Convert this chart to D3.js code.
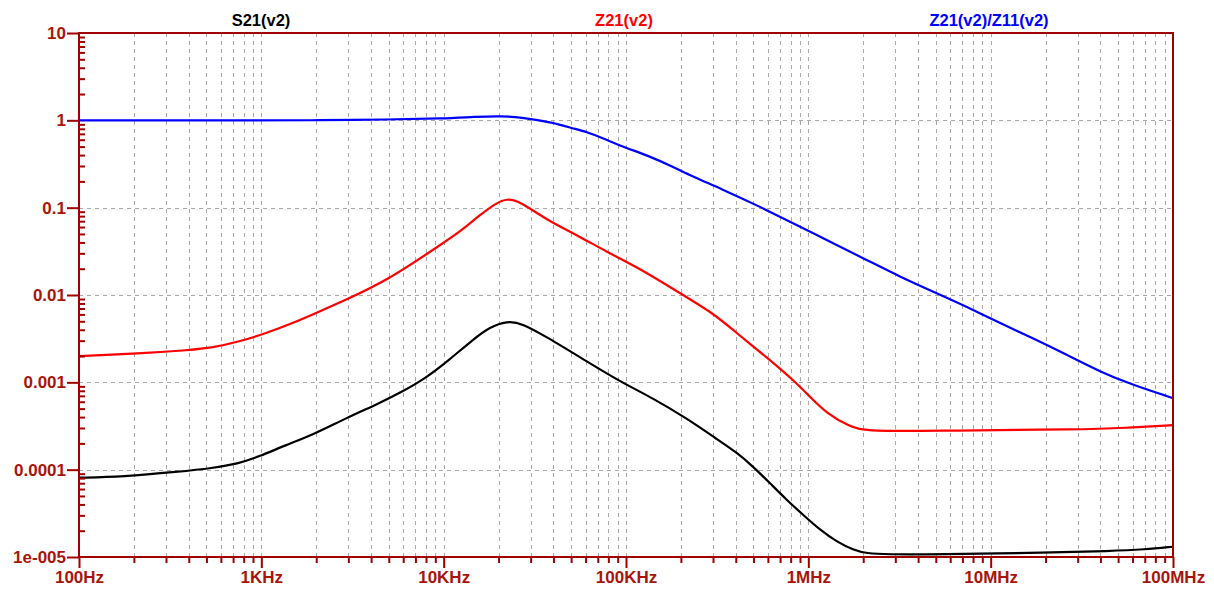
<!DOCTYPE html>
<html>
<head>
<script src="https://d3js.org/d3.v7.min.js" charset="utf-8"></script>
<style>
    body{
        margin:0;
        background:#fff;
        font-family:"Liberation Sans", Arial, sans-serif;
    }
</style>
</head>
<body>
<div id="chart"></div>
<script>

    // tick values and labels
    var xTicks = [1e2,1e3,1e4,1e5,1e6,1e7,1e8]
    var xLabels = ["100Hz","1KHz","10KHz","100KHz","1MHz","10MHz","100MHz"]
    var yTicks = [10,1,0.1,0.01,0.001,0.0001,0.00001]
    var yLabels = ["10","1","0.1","0.01","0.001","0.0001","1e-005"]

    var seriesNames = ["S21(v2)","Z21(v2)","Z21(v2)/Z11(v2)"]

    // S21(v2)
    var s21Freq = [100,173,353,538,755,971,1360,1900,2900,4420,5690,7960,10700,14600,17900,22300,26900,36800,58000,92700,141000,215000,314000,404000,499000,617000,761000,938000,1160000,1430000,1770000,2090000,2690000,5000000,21200000,45000000,70000000,100000000]
    var s21Val = [8.09e-5,8.3e-5,9.48e-5,1.04e-4,1.18e-4,1.41e-4,1.91e-4,2.49e-4,3.87e-4,5.75e-4,7.48e-4,1.11e-3,1.80e-3,3.13e-3,4.3e-3,5.05e-3,4.75e-3,3.3e-3,1.85e-3,1.02e-3,6.56e-4,3.87e-4,2.25e-4,1.58e-4,1.08e-4,6.98e-5,4.5e-5,3.03e-5,2.04e-5,1.50e-5,1.20e-5,1.10e-5,1.07e-5,1.07e-5,1.12e-5,1.17e-5,1.22e-5,1.31e-5]

    // Z21(v2)
    var z21Freq = [100,232,401,538,755,1060,1480,2070,2900,5000,9550,12300,15800,19500,22200,26200,36800,56000,78000,119000,198000,301000,386000,617000,827000,1020000,1260000,1690000,2090000,5980000,31000000,54600000,100000000]
    var z21Val = [0.00200,0.00215,0.00234,0.00249,0.00292,0.00364,0.00474,0.00644,0.00877,0.0150,0.0373,0.0531,0.0824,0.114,0.127,0.118,0.0722,0.0465,0.0313,0.0202,0.01045,0.00617,0.00397,0.0018,0.00106,0.000685,0.000441,0.00031,0.000272,0.000281,0.000288,0.0003,0.000324]

    // Z21(v2)/Z11(v2)
    var ratioFreq = [100,1000,2000,5000,10000,15000,20400,26200,40000,51000,60800,78000,101000,130000,181000,233000,328000,543000,824000,1160000,1370000,2090000,3180000,4850000,7400000,11300000,17100000,26100000,39800000,60400000,100000000]
    var ratioVal = [1.0,1.0,1.0,1.02,1.05,1.1,1.12,1.09,0.94,0.81,0.74,0.60,0.48,0.40,0.294,0.226,0.167,0.1026,0.0662,0.0465,0.039,0.0252,0.0162,0.0109,0.00735,0.00474,0.00319,0.00207,0.00132,0.00093,0.00066]

    var width = 1214
    var height = 593
    var plotLeft = 79, plotRight = 1173, plotTop = 33, plotBottom = 557
    var axisColor = "#a00000"
    var labelColor = "#a8140a"
    var gridColor = "#a8a8a8"

    var xScale = d3.scaleLog().domain([1e2,1e8]).range([plotLeft,plotRight])
    var yScale = d3.scaleLog().domain([1e-5,10]).range([plotBottom,plotTop])

    var svg = d3.select("#chart")
        .append("svg")
        .attr("width",width)
        .attr("height",height)

    // minor values (2..9 in each decade)
    var xMinor = []
    for(var e=2;e<8;e++){
        for(var m=2;m<10;m++){ xMinor.push(m*Math.pow(10,e)) }
    }
    var yMinor = []
    for(var e=-5;e<1;e++){
        for(var m=2;m<10;m++){ yMinor.push(m*Math.pow(10,e)) }
    }

    // grid
    var grid = svg.append("g")
    grid.selectAll(".vgrid")
        .data(xMinor.concat(xTicks.slice(1,-1)))
        .enter()
        .append("line")
        .attr("x1",function(d){return Math.round(xScale(d))+0.5})
        .attr("x2",function(d){return Math.round(xScale(d))+0.5})
        .attr("y1",plotTop)
        .attr("y2",plotBottom)
        .attr("stroke",gridColor)
        .attr("stroke-dasharray","4,4")
    grid.selectAll(".hgrid")
        .data(yTicks.slice(1,-1))
        .enter()
        .append("line")
        .attr("y1",function(d){return Math.round(yScale(d))+0.5})
        .attr("y2",function(d){return Math.round(yScale(d))+0.5})
        .attr("x1",plotLeft)
        .attr("x2",plotRight)
        .attr("stroke",gridColor)
        .attr("stroke-dasharray","4,4")

    // curves
    svg.append("clipPath").attr("id","clip")
        .append("rect")
        .attr("x",plotLeft).attr("y",plotTop)
        .attr("width",plotRight-plotLeft).attr("height",plotBottom-plotTop)

    var line = d3.line()
        .x(function(d){return xScale(d[0])})
        .y(function(d){return yScale(d[1])})
        .curve(d3.curveBasis)

    var series = [
        {name:seriesNames[0],color:"#000000",freq:s21Freq,val:s21Val},
        {name:seriesNames[1],color:"#ff0000",freq:z21Freq,val:z21Val},
        {name:seriesNames[2],color:"#0000ff",freq:ratioFreq,val:ratioVal}
    ]

    svg.append("g")
        .attr("clip-path","url(#clip)")
        .selectAll("path")
        .data(series)
        .enter()
        .append("path")
        .attr("d",function(s){
            return line(s.freq.map(function(f,i){return [f,s.val[i]]}))
        })
        .attr("fill","none")
        .attr("stroke",function(s){return s.color})
        .attr("stroke-width",2.2)

    // axes
    svg.append("g")
        .attr("transform","translate(0,"+plotBottom+")")
        .call(d3.axisBottom(xScale).tickValues(xTicks).tickSize(11).tickPadding(3)
            .tickFormat(function(d,i){return xLabels[i]}))
    svg.append("g")
        .attr("transform","translate(0,"+plotBottom+")")
        .call(d3.axisBottom(xScale).tickValues(xMinor).tickSize(6).tickFormat(""))

    svg.append("g")
        .attr("transform","translate("+plotLeft+",0)")
        .call(d3.axisLeft(yScale).tickValues(yTicks).tickSize(12).tickPadding(1)
            .tickFormat(function(d,i){return yLabels[i]}))
    svg.append("g")
        .attr("transform","translate("+plotLeft+",0)")
        .call(d3.axisRight(yScale).tickValues(yMinor).tickSize(6).tickFormat(""))

    svg.selectAll(".domain").remove()
    svg.selectAll(".tick line")
        .attr("stroke",axisColor)
        .attr("stroke-width",2)
    svg.selectAll(".tick text")
        .attr("fill",labelColor)
        .style("font-family","'Liberation Sans', Arial, sans-serif")
        .style("font-size","17px")
        .style("font-weight","bold")

    // frame
    svg.append("rect")
        .attr("x",plotLeft)
        .attr("y",plotTop)
        .attr("width",plotRight-plotLeft)
        .attr("height",plotBottom-plotTop)
        .attr("fill","none")
        .attr("stroke",axisColor)
        .attr("stroke-width",2)

    // series titles
    var titleX = [261,624,989]
    svg.selectAll(".title")
        .data(series)
        .enter()
        .append("text")
        .attr("class","title")
        .attr("x",function(d,i){return titleX[i]})
        .attr("y",26)
        .attr("text-anchor","middle")
        .attr("fill",function(d){return d.color})
        .style("font-size","16.5px")
        .style("font-weight","bold")
        .text(function(d){return d.name})

</script>
</body>
</html>
